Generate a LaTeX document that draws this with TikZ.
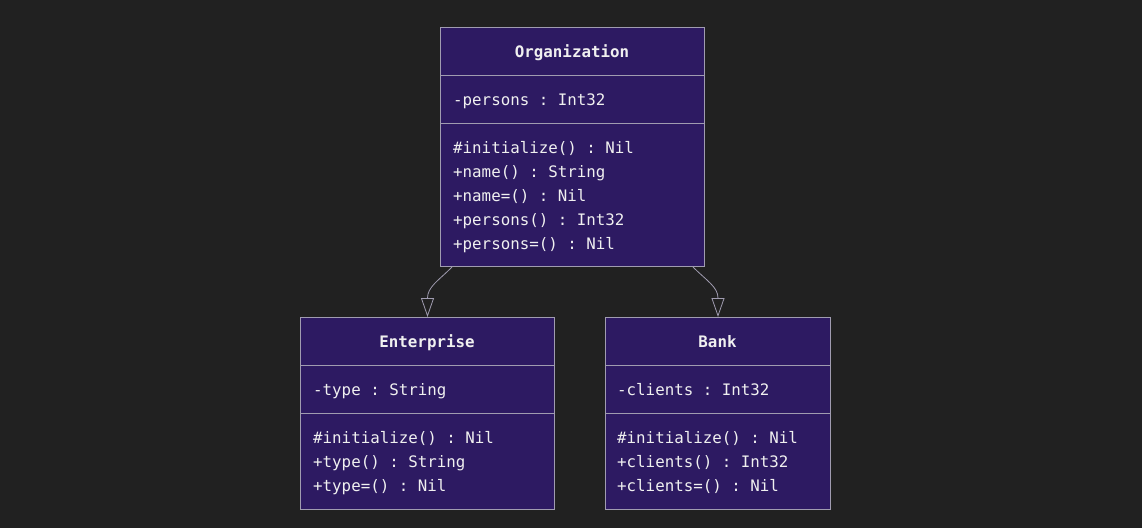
\documentclass[tikz,border=0pt]{standalone}
\usepackage{fontspec}
\setmonofont{DejaVu Sans Mono}
\usetikzlibrary{arrows.meta}
\definecolor{bgc}{HTML}{212121}
\definecolor{boxc}{HTML}{2D1A62}
\definecolor{linec}{HTML}{A09CB0}
\definecolor{txtc}{HTML}{F0F0F0}
\begin{document}
\begin{tikzpicture}[x=1pt,y=-1pt,
  umlbox/.style={draw=linec, fill=boxc, line width=1pt, inner sep=0pt, anchor=north west},
  divider/.style={draw=linec, line width=1pt},
  txt/.style={text=txtc, font=\fontsize{15.8}{19}\selectfont\ttfamily, inner sep=0pt, anchor=base west},
  ttl/.style={text=txtc, font=\fontsize{15.8}{19}\selectfont\ttfamily\bfseries, inner sep=0pt, anchor=base},
  inherit/.style={draw=linec, line width=0.8pt, -{Triangle[open, length=19pt, width=13pt, fill=bgc]}}
]
\fill[bgc] (0,0) rectangle (1142,528);
\useasboundingbox (0,0) rectangle (1142,528);

% Organization
\node[umlbox, minimum width=264pt, minimum height=239pt] (org) at (440,27) {};
\draw[divider] (440,75) -- (704,75);
\draw[divider] (440,123) -- (704,123);
\node[ttl] (orgt) at (572,57) {Organization};
\node[txt] (orga1) at (453,105) {-persons : Int32};
\node[txt] (orgm1) at (453,153) {\#initialize() : Nil};
\node[txt] (orgm2) at (453,177) {+name() : String};
\node[txt] (orgm3) at (453,201) {+name=() : Nil};
\node[txt] (orgm4) at (453,225) {+persons() : Int32};
\node[txt] (orgm5) at (453,249) {+persons=() : Nil};

% Enterprise
\node[umlbox, minimum width=254pt, minimum height=192pt] (ent) at (300,317) {};
\draw[divider] (300,365) -- (554,365);
\draw[divider] (300,413) -- (554,413);
\node[ttl] (entt) at (427,347) {Enterprise};
\node[txt] (enta1) at (313,395) {-type : String};
\node[txt] (entm1) at (313,443) {\#initialize() : Nil};
\node[txt] (entm2) at (313,467) {+type() : String};
\node[txt] (entm3) at (313,491) {+type=() : Nil};

% Bank
\node[umlbox, minimum width=225pt, minimum height=192pt] (bank) at (605,317) {};
\draw[divider] (605,365) -- (830,365);
\draw[divider] (605,413) -- (830,413);
\node[ttl] (bankt) at (717.5,347) {Bank};
\node[txt] (banka1) at (617,395) {-clients : Int32};
\node[txt] (bankm1) at (617,443) {\#initialize() : Nil};
\node[txt] (bankm2) at (617,467) {+clients() : Int32};
\node[txt] (bankm3) at (617,491) {+clients=() : Nil};

% Inheritance connectors
\draw[inherit] ([xshift=12pt]org.south west) .. controls +(-14,14) and +(0,-30) .. (ent.north);
\draw[inherit] ([xshift=-12pt]org.south east) .. controls +(14,14) and +(0,-30) .. (bank.north);
\end{tikzpicture}
\end{document}
